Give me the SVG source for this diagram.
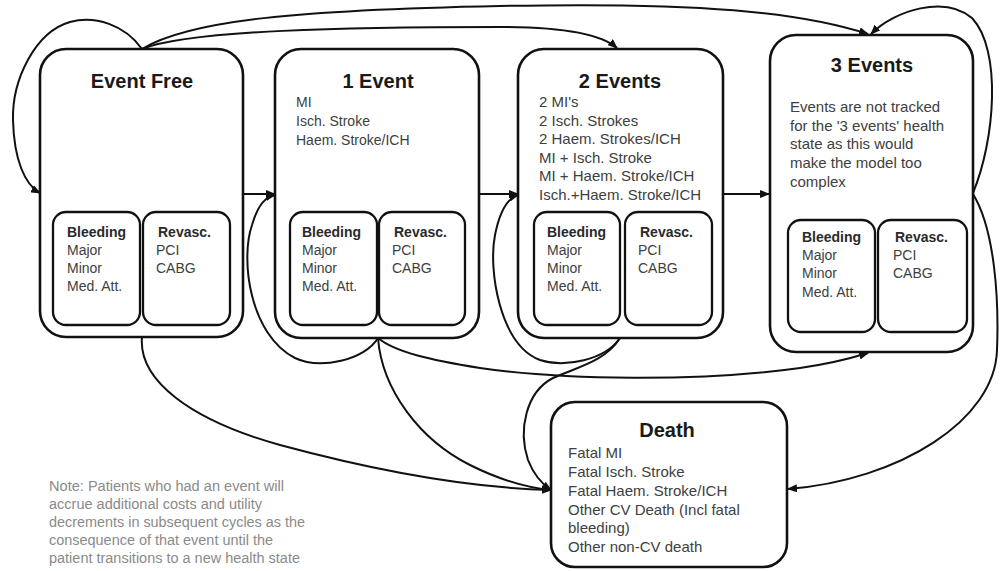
<svg xmlns="http://www.w3.org/2000/svg" width="1000" height="571" viewBox="0 0 1000 571">
<style>
.box{fill:#fff;stroke:#111;stroke-width:2.6}
.ibox{fill:#fff;stroke:#111;stroke-width:2.3}
.title{font-family:"Liberation Sans",Arial,sans-serif;font-weight:bold;font-size:20px;fill:#1a1a1a;text-anchor:middle}
.t14{font-family:"Liberation Sans",Arial,sans-serif;font-size:14px;fill:#404040}
.t15{font-family:"Liberation Sans",Arial,sans-serif;font-size:15px;fill:#404040}
.b14{font-family:"Liberation Sans",Arial,sans-serif;font-size:14px;font-weight:bold;fill:#2a2a2a}
.note{font-family:"Liberation Sans",Arial,sans-serif;font-size:14px;fill:#8a8a8a}
.con path{fill:none;stroke:#111;stroke-width:2;marker-end:url(#arr)}
</style>
<defs>
<marker id="arr" markerUnits="userSpaceOnUse" markerWidth="10" markerHeight="8" refX="9" refY="4" orient="auto">
<path d="M0,0 L10,4 L0,8 z" fill="#111"/>
</marker>
</defs>
<rect width="1000" height="571" fill="#fff"/>

<g class="con" id="connectors">
<path d="M142,49 C125,25 95,15 70,22 C35,32 12,80 13,120 C14,160 25,185 40,193"/>
<path d="M142,49 C190,20 300,10 500,6 C700,2 800,12 868,34"/>
<path d="M142,49 C190,30 350,27 500,27 C560,27 600,33 617,48"/>
<path d="M973,193 C995,140 1002,50 972,18 C945,-5 895,10 871,34"/>
<path d="M243,194 L275,194"/>
<path d="M479,194 L518,194"/>
<path d="M723,194 L769,194"/>
<path d="M378,338 C365,360 320,370 295,358 C250,335 240,260 252,225 C258,205 265,197 275,195"/>
<path d="M620,338 C605,360 565,368 540,360 C500,345 488,270 495,235 C500,210 508,198 518,195"/>
<path d="M142,337 C138,380 190,420 280,445 C380,472 470,488 551,490"/>
<path d="M378,338 C382,390 420,440 470,465 C500,480 530,488 551,490"/>
<path d="M378,338 C395,352 430,360 480,368 C560,380 700,382 800,368 C835,363 855,357 868,353"/>
<path d="M620,338 C605,362 575,368 553,378 C526,392 518,430 528,460 C535,478 545,486 551,490"/>
<path d="M973,194 C995,230 999,300 997,350 C995,420 900,480 788,489"/>
</g>

<g id="event-free">
<rect class="box" x="40" y="49" width="203" height="288" rx="26"/>
<text class="title" x="142" y="88">Event Free</text>
<rect class="ibox" x="53" y="212" width="87" height="113" rx="13"/>
<rect class="ibox" x="143" y="212" width="87" height="113" rx="13"/>
<text class="b14" x="67" y="237">Bleeding</text>
<text class="t14" x="67" y="255">Major</text>
<text class="t14" x="67" y="273">Minor</text>
<text class="t14" x="67" y="291">Med. Att.</text>
<text class="b14" x="158" y="237">Revasc.</text>
<text class="t14" x="156" y="255">PCI</text>
<text class="t14" x="156" y="273">CABG</text>
</g>

<g id="one-event">
<rect class="box" x="275" y="49" width="204" height="289" rx="26"/>
<text class="title" x="378" y="88">1 Event</text>
<text class="t14" x="296" y="107">MI</text>
<text class="t14" x="296" y="126">Isch. Stroke</text>
<text class="t14" x="296" y="145">Haem. Stroke/ICH</text>
<rect class="ibox" x="290" y="212" width="87" height="113" rx="13"/>
<rect class="ibox" x="379" y="212" width="86" height="113" rx="13"/>
<text class="b14" x="302" y="237">Bleeding</text>
<text class="t14" x="302" y="255">Major</text>
<text class="t14" x="302" y="273">Minor</text>
<text class="t14" x="302" y="291">Med. Att.</text>
<text class="b14" x="394" y="237">Revasc.</text>
<text class="t14" x="392" y="255">PCI</text>
<text class="t14" x="392" y="273">CABG</text>
</g>

<g id="two-events">
<rect class="box" x="518" y="49" width="205" height="289" rx="26"/>
<text class="title" x="620" y="88">2 Events</text>
<text class="t15" x="539" y="107">2 MI's</text>
<text class="t15" x="539" y="125.6">2 Isch. Strokes</text>
<text class="t15" x="539" y="144.2">2 Haem. Strokes/ICH</text>
<text class="t15" x="539" y="162.8">MI  + Isch. Stroke</text>
<text class="t15" x="539" y="181.4">MI  + Haem. Stroke/ICH</text>
<text class="t15" x="539" y="200">Isch.+Haem. Stroke/ICH</text>
<rect class="ibox" x="534" y="212" width="86" height="113" rx="13"/>
<rect class="ibox" x="625" y="212" width="87" height="113" rx="13"/>
<text class="b14" x="547" y="237">Bleeding</text>
<text class="t14" x="547" y="255">Major</text>
<text class="t14" x="547" y="273">Minor</text>
<text class="t14" x="547" y="291">Med. Att.</text>
<text class="b14" x="640" y="237">Revasc.</text>
<text class="t14" x="638" y="255">PCI</text>
<text class="t14" x="638" y="273">CABG</text>
</g>

<g id="three-events">
<rect class="box" x="770" y="35" width="203" height="317" rx="26"/>
<text class="title" x="872" y="72">3 Events</text>
<text class="t15" x="790" y="112">Events are not tracked</text>
<text class="t15" x="790" y="130.7">for the  '3 events' health</text>
<text class="t15" x="790" y="149.4">state as this would</text>
<text class="t15" x="790" y="168.1">make the model too</text>
<text class="t15" x="790" y="186.8">complex</text>
<rect class="ibox" x="788" y="220" width="87" height="112" rx="13"/>
<rect class="ibox" x="878" y="220" width="89" height="112" rx="13"/>
<text class="b14" x="802" y="242">Bleeding</text>
<text class="t14" x="802" y="260">Major</text>
<text class="t14" x="802" y="278">Minor</text>
<text class="t14" x="802" y="297">Med. Att.</text>
<text class="b14" x="895" y="242">Revasc.</text>
<text class="t14" x="893" y="260">PCI</text>
<text class="t14" x="893" y="278">CABG</text>
</g>

<g id="death">
<rect class="box" x="551" y="402" width="236" height="165" rx="24"/>
<text class="title" x="667" y="437">Death</text>
<text class="t15" x="568" y="458">Fatal MI</text>
<text class="t15" x="568" y="477">Fatal Isch. Stroke</text>
<text class="t15" x="568" y="496">Fatal Haem. Stroke/ICH</text>
<text class="t15" x="568" y="515">Other CV Death (Incl fatal</text>
<text class="t15" x="568" y="533">bleeding)</text>
<text class="t15" x="568" y="552">Other non-CV death</text>
</g>

<g id="note">
<text class="note" x="49" y="491" textLength="235" lengthAdjust="spacingAndGlyphs">Note: Patients who had an event will</text>
<text class="note" x="49" y="509" textLength="213" lengthAdjust="spacingAndGlyphs">accrue additional costs and utility</text>
<text class="note" x="49" y="527" textLength="256" lengthAdjust="spacingAndGlyphs">decrements in subsequent cycles as the</text>
<text class="note" x="49" y="545" textLength="224" lengthAdjust="spacingAndGlyphs">consequence of that event until the</text>
<text class="note" x="49" y="563" textLength="251" lengthAdjust="spacingAndGlyphs">patient transitions to a new health state</text>
</g>
</svg>
